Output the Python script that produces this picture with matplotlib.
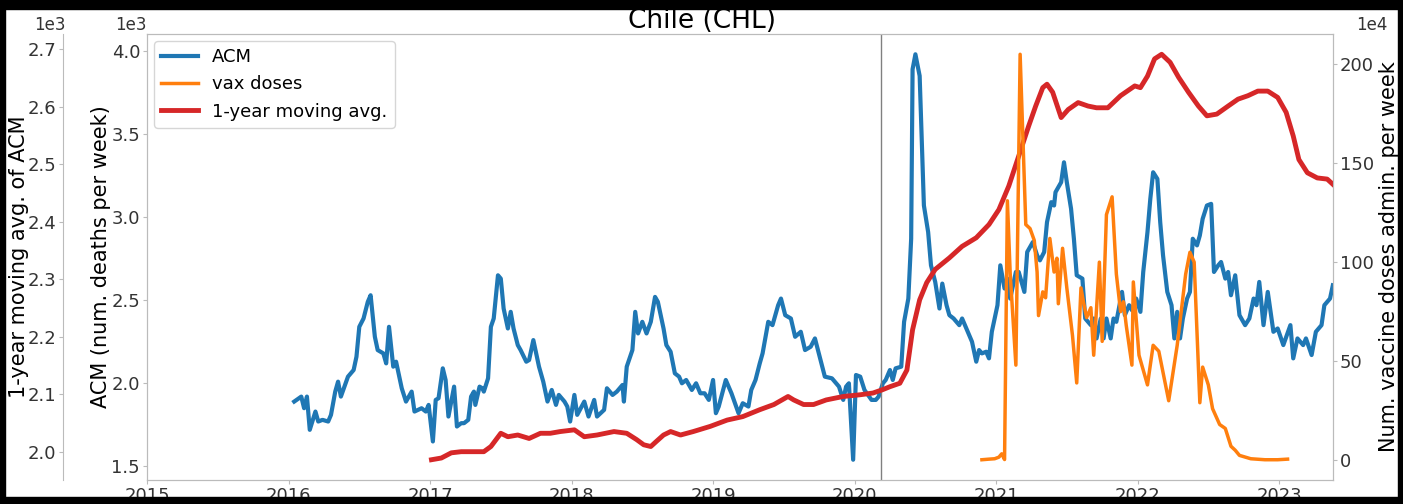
import matplotlib
matplotlib.use('Agg')
import matplotlib.pyplot as plt
from matplotlib.patches import Rectangle

# weekly all-cause mortality (decimal year, deaths per week)
acm_year = [2016.04, 2016.09, 2016.11, 2016.13, 2016.15, 2016.19, 2016.21, 2016.24, 2016.28, 2016.30,
            2016.33, 2016.35, 2016.37, 2016.42, 2016.46, 2016.48, 2016.50, 2016.53, 2016.56, 2016.58,
            2016.61, 2016.63, 2016.67, 2016.69, 2016.71, 2016.74, 2016.76, 2016.80, 2016.83, 2016.87,
            2016.89, 2016.94, 2016.97, 2016.99, 2017.02, 2017.04, 2017.06, 2017.09, 2017.11, 2017.13,
            2017.17, 2017.19, 2017.22, 2017.24, 2017.27, 2017.29, 2017.31, 2017.32, 2017.35, 2017.37,
            2017.38, 2017.41, 2017.43, 2017.45, 2017.48, 2017.50, 2017.52, 2017.55, 2017.57, 2017.59,
            2017.62, 2017.64, 2017.68, 2017.70, 2017.73, 2017.77, 2017.80, 2017.83, 2017.86, 2017.89,
            2017.91, 2017.95, 2017.97, 2017.99, 2018.02, 2018.04, 2018.09, 2018.12, 2018.16, 2018.18,
            2018.23, 2018.25, 2018.29, 2018.32, 2018.36, 2018.37, 2018.39, 2018.43, 2018.45, 2018.47,
            2018.50, 2018.53, 2018.56, 2018.59, 2018.61, 2018.65, 2018.67, 2018.70, 2018.73, 2018.76,
            2018.78, 2018.81, 2018.85, 2018.88, 2018.91, 2018.94, 2018.97, 2019.00, 2019.02, 2019.04,
            2019.09, 2019.13, 2019.18, 2019.21, 2019.25, 2019.27, 2019.30, 2019.33, 2019.35, 2019.39,
            2019.42, 2019.46, 2019.48, 2019.51, 2019.55, 2019.58, 2019.62, 2019.65, 2019.69, 2019.72,
            2019.76, 2019.79, 2019.84, 2019.89, 2019.92, 2019.94, 2019.96, 2019.99, 2020.01, 2020.04,
            2020.07, 2020.12, 2020.15, 2020.17, 2020.20, 2020.22, 2020.25, 2020.27, 2020.29, 2020.33,
            2020.35, 2020.38, 2020.40, 2020.41, 2020.43, 2020.46, 2020.49, 2020.52, 2020.54, 2020.57,
            2020.60, 2020.62, 2020.65, 2020.67, 2020.70, 2020.74, 2020.76, 2020.80, 2020.83, 2020.86,
            2020.88, 2020.90, 2020.93, 2020.95, 2020.97, 2021.01, 2021.03, 2021.06, 2021.08, 2021.10,
            2021.14, 2021.16, 2021.20, 2021.22, 2021.26, 2021.29, 2021.31, 2021.34, 2021.36, 2021.39,
            2021.41, 2021.42, 2021.46, 2021.48, 2021.50, 2021.53, 2021.55, 2021.57, 2021.61, 2021.63,
            2021.67, 2021.69, 2021.71, 2021.74, 2021.76, 2021.78, 2021.81, 2021.83, 2021.85, 2021.89,
            2021.91, 2021.94, 2021.96, 2021.99, 2022.02, 2022.04, 2022.07, 2022.09, 2022.11, 2022.14,
            2022.16, 2022.18, 2022.21, 2022.24, 2022.26, 2022.28, 2022.30, 2022.32, 2022.35, 2022.37,
            2022.39, 2022.42, 2022.44, 2022.46, 2022.49, 2022.52, 2022.54, 2022.57, 2022.59, 2022.62,
            2022.64, 2022.66, 2022.69, 2022.72, 2022.76, 2022.79, 2022.82, 2022.84, 2022.86, 2022.89,
            2022.92, 2022.96, 2022.99, 2023.03, 2023.08, 2023.10, 2023.13, 2023.17, 2023.19, 2023.23,
            2023.26, 2023.30, 2023.32, 2023.36, 2023.38]
acm_deaths = [1890, 1920, 1850, 1920, 1720, 1830, 1770, 1780, 1770, 1810,
              1950, 2010, 1920, 2040, 2080, 2160, 2340, 2390, 2490, 2530,
              2280, 2200, 2180, 2120, 2340, 2100, 2130, 1970, 1890, 1950,
              1830, 1850, 1830, 1870, 1650, 1900, 1910, 2090, 2020, 1800,
              1980, 1740, 1760, 1760, 1780, 1920, 1950, 1870, 1980, 1970,
              1950, 2030, 2340, 2390, 2650, 2630, 2450, 2330, 2430, 2330,
              2230, 2200, 2130, 2140, 2260, 2100, 2010, 1890, 1960, 1870,
              1930, 1890, 1860, 1770, 1930, 1810, 1890, 1800, 1900, 1800,
              1840, 1970, 1930, 1950, 1990, 1890, 2100, 2200, 2430, 2300,
              2370, 2300, 2370, 2520, 2490, 2330, 2230, 2190, 2060, 2040,
              2000, 2020, 1960, 2000, 1940, 1940, 1900, 2020, 1820, 1860,
              2020, 1940, 1820, 1880, 1860, 1960, 2020, 2120, 2180, 2370,
              2350, 2470, 2510, 2410, 2390, 2280, 2310, 2200, 2220, 2270,
              2140, 2040, 2030, 1980, 1900, 1980, 2000, 1540, 2050, 2040,
              1960, 1900, 1900, 1920, 2000, 2020, 2080, 2020, 2090, 2100,
              2370, 2510, 2870, 3890, 3980, 3850, 3070, 2910, 2710, 2610,
              2450, 2600, 2470, 2410, 2390, 2350, 2390, 2310, 2250, 2130,
              2200, 2180, 2190, 2150, 2310, 2470, 2710, 2570, 2630, 2510,
              2670, 2670, 2550, 2790, 2850, 2770, 2740, 2790, 2970, 3090,
              3070, 3150, 3210, 3330, 3210, 3050, 2870, 2650, 2630, 2390,
              2350, 2390, 2270, 2390, 2270, 2390, 2270, 2390, 2370, 2550,
              2410, 2470, 2440, 2510, 2430, 2670, 2910, 3110, 3270, 3230,
              2970, 2770, 2550, 2470, 2270, 2430, 2270, 2390, 2510, 2550,
              2870, 2830, 2890, 2990, 3070, 3080, 2670, 2710, 2730, 2630,
              2670, 2530, 2650, 2410, 2350, 2390, 2510, 2470, 2610, 2350,
              2550, 2310, 2330, 2230, 2350, 2150, 2270, 2230, 2270, 2170,
              2310, 2350, 2470, 2510, 2590]

# 1-year moving average of ACM
ma_year = [2017.01, 2017.08, 2017.15, 2017.22, 2017.38, 2017.43, 2017.50, 2017.55, 2017.62, 2017.70,
           2017.78, 2017.85, 2017.92, 2018.02, 2018.09, 2018.18, 2018.30, 2018.39, 2018.46, 2018.51,
           2018.56, 2018.60, 2018.65, 2018.70, 2018.77, 2018.86, 2018.98, 2019.10, 2019.21, 2019.33,
           2019.43, 2019.53, 2019.57, 2019.64, 2019.71, 2019.80, 2019.92, 2020.04, 2020.13, 2020.20,
           2020.25, 2020.32, 2020.37, 2020.41, 2020.46, 2020.51, 2020.57, 2020.67, 2020.76, 2020.86,
           2020.95, 2021.02, 2021.09, 2021.16, 2021.23, 2021.28, 2021.33, 2021.36, 2021.40, 2021.46,
           2021.51, 2021.58, 2021.65, 2021.71, 2021.79, 2021.88, 2021.98, 2022.02, 2022.07, 2022.12,
           2022.17, 2022.23, 2022.29, 2022.36, 2022.43, 2022.49, 2022.56, 2022.64, 2022.71, 2022.78,
           2022.85, 2022.92, 2022.99, 2023.05, 2023.10, 2023.14, 2023.20, 2023.27, 2023.34, 2023.38]
ma_deaths = [1986, 1989, 1998, 2000, 2000, 2009, 2032, 2026, 2029, 2023,
             2032, 2032, 2035, 2038, 2026, 2029, 2035, 2032, 2021, 2012,
             2009, 2018, 2029, 2035, 2029, 2035, 2044, 2055, 2061, 2073,
             2082, 2096, 2090, 2082, 2082, 2090, 2096, 2099, 2102, 2108,
             2113, 2119, 2142, 2212, 2264, 2294, 2317, 2337, 2357, 2372,
             2395, 2421, 2462, 2514, 2566, 2601, 2633, 2639, 2625, 2581,
             2595, 2607, 2601, 2598, 2598, 2619, 2636, 2633, 2653, 2683,
             2691, 2677, 2651, 2625, 2601, 2584, 2587, 2601, 2613, 2619,
             2627, 2627, 2616, 2590, 2549, 2508, 2485, 2476, 2474, 2465]

# vaccine doses administered per week
vax_year = [2020.90, 2020.95, 2020.99, 2021.02, 2021.04, 2021.06, 2021.08, 2021.10, 2021.14, 2021.17,
            2021.21, 2021.24, 2021.27, 2021.29, 2021.30, 2021.33, 2021.35, 2021.38, 2021.41, 2021.43,
            2021.44, 2021.47, 2021.50, 2021.54, 2021.57, 2021.60, 2021.62, 2021.64, 2021.67, 2021.69,
            2021.73, 2021.75, 2021.78, 2021.82, 2021.85, 2021.88, 2021.90, 2021.92, 2021.96, 2021.97,
            2022.01, 2022.07, 2022.11, 2022.15, 2022.22, 2022.28, 2022.34, 2022.37, 2022.40, 2022.44,
            2022.46, 2022.50, 2022.53, 2022.58, 2022.62, 2022.66, 2022.69, 2022.72, 2022.80, 2022.90,
            2022.99, 2023.06]
vax_doses = [2000, 5000, 7000, 15000, 32000, 3000, 1310000, 940000, 480000, 2050000,
             1190000, 1170000, 1110000, 950000, 730000, 850000, 820000, 1120000, 950000, 1020000,
             790000, 1070000, 870000, 630000, 390000, 870000, 790000, 720000, 770000, 530000,
             1000000, 600000, 1240000, 1330000, 940000, 750000, 800000, 680000, 480000, 900000,
             530000, 380000, 580000, 550000, 300000, 580000, 940000, 1050000, 1000000, 290000,
             470000, 380000, 260000, 180000, 160000, 70000, 50000, 24000, 7000, 2000,
             2000, 5000]

year_ticks = list(range(2015, 2024))
pandemic_start = 2020.19
spine_grey = '#bbbbbb'

fig = plt.figure(figsize=(14.03, 5.04), dpi=100)
ax = fig.add_axes([0.1048, 0.0476, 0.8452, 0.8849])
ax_ma = ax.twinx()
ax_vax = ax.twinx()

l_acm, = ax.plot(acm_year, acm_deaths, color='tab:blue', lw=3, label='ACM')
l_ma, = ax_ma.plot(ma_year, ma_deaths, color='tab:red', lw=3.5, label='1-year moving avg.')
l_vax, = ax_vax.plot(vax_year, vax_doses, color='tab:orange', lw=2.5, label='vax doses')
ax.axvline(pandemic_start, color='grey', lw=1)

ax.set_xlim(2015, acm_year[-1])
ax.set_xticks(year_ticks)
ax.set_xticklabels([str(y) for y in year_ticks])

# outer left axis for the moving average
ax_ma.spines['left'].set_position(('axes', -0.071))
ax_ma.yaxis.set_ticks_position('left')
ax_ma.yaxis.set_label_position('left')
ax_ma.yaxis.set_offset_position('left')
for s in ['right', 'top', 'bottom']:
    ax_ma.spines[s].set_visible(False)
ax_ma.patch.set_visible(False)

for a in [ax, ax_ma, ax_vax]:
    for s in a.spines.values():
        s.set_color(spine_grey)
    a.tick_params(labelsize=13, length=3, color=spine_grey, labelcolor='#333333', pad=2)
    a.yaxis.get_offset_text().set_fontsize(12)
    a.yaxis.get_offset_text().set_color('#333333')

ax.ticklabel_format(axis='y', style='sci', scilimits=(3, 3))
ax_ma.ticklabel_format(axis='y', style='sci', scilimits=(3, 3))
ax_vax.ticklabel_format(axis='y', style='sci', scilimits=(4, 4))

ot = ax.yaxis.get_offset_text()
ot.set_x(0.0)
ot.set_horizontalalignment('right')
ot = ax_ma.yaxis.get_offset_text()
ot.set_x(-0.082)
ot.set_horizontalalignment('center')
ot = ax_vax.yaxis.get_offset_text()
ot.set_x(1.02)
ot.set_horizontalalignment('left')

ax.set_ylabel('ACM (num. deaths per week)', fontsize=15, labelpad=0)
ax_ma.set_ylabel('1-year moving avg. of ACM', fontsize=15, labelpad=-1.5)
ax_vax.set_ylabel('Num. vaccine doses admin. per week', fontsize=15)

fig.suptitle('Chile (CHL)', fontsize=19, y=0.958, va='center')

ax_vax.legend(handles=[l_acm, l_vax, l_ma], loc='upper left', fontsize=13, borderaxespad=0.4)

# black frame around the picture
for r in [(0, 0, 1, 0.014), (0, 0.982, 1, 0.018), (0, 0, 0.0036, 1), (0.9964, 0, 0.0036, 1)]:
    fig.add_artist(Rectangle((r[0], r[1]), r[2], r[3], transform=fig.transFigure,
                             color='black', zorder=10))

plt.savefig('out.png', dpi=100)
